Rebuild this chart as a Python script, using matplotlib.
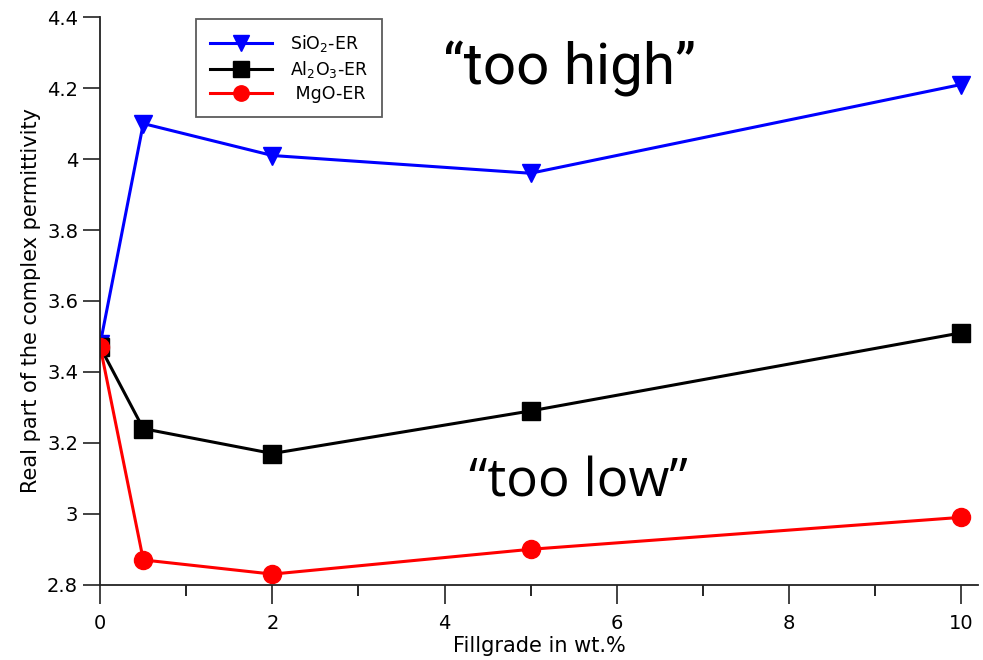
import matplotlib
matplotlib.use('Agg')
import matplotlib.pyplot as plt
from matplotlib.ticker import MultipleLocator, FormatStrFormatter

# Fill grade (wt.%) and real part of permittivity
fillgrade = [0, 0.5, 2, 5, 10]
sio2 = [3.48, 4.10, 4.01, 3.96, 4.21]
al2o3 = [3.47, 3.24, 3.17, 3.29, 3.51]
mgo = [3.47, 2.87, 2.83, 2.90, 2.99]

labels = ['SiO$_2$-ER', 'Al$_2$O$_3$-ER', ' MgO-ER']

fig = plt.figure(figsize=(9.83, 6.6), dpi=100)
ax = fig.add_axes([0.102, 0.114, 0.893, 0.86])

# Plotting the three filler series
ax.plot(fillgrade, sio2, color='blue', lw=2.2, marker='v', markersize=13, label=labels[0])
ax.plot(fillgrade, al2o3, color='black', lw=2.2, marker='s', markersize=13, label=labels[1])
ax.plot(fillgrade, mgo, color='red', lw=2.2, marker='o', markersize=13, label=labels[2])

ax.set_xlim(0, 10.2)
ax.set_ylim(2.8, 4.4)

# Axis styling: only left and bottom spines, ticks pointing outwards
for side in ['top', 'right']:
    ax.spines[side].set_visible(False)
for side in ['left', 'bottom']:
    ax.spines[side].set_linewidth(1.3)
    ax.spines[side].set_color('#222222')

ax.xaxis.set_major_locator(MultipleLocator(2))
ax.xaxis.set_minor_locator(MultipleLocator(1))
ax.yaxis.set_major_locator(MultipleLocator(0.2))
ax.yaxis.set_major_formatter(FormatStrFormatter('%g'))
ax.tick_params(axis='both', direction='out', labelsize=14, width=1.2, color='#222222')
ax.tick_params(axis='x', which='major', length=14, pad=7)
ax.tick_params(axis='x', which='minor', length=8, width=1.2)
ax.tick_params(axis='y', length=12, pad=4)

ax.set_xlabel('Fillgrade in wt.%', fontsize=15, labelpad=2)
ax.set_ylabel('Real part of the complex permittivity', fontsize=15, labelpad=4)

leg = ax.legend(loc='upper left', bbox_to_anchor=(0.107, 1.0), fontsize=12.5,
                handlelength=3.6, markerscale=0.85, frameon=True, fancybox=False,
                borderpad=0.8, labelspacing=0.3, handletextpad=1.0, borderaxespad=0.1)
leg.get_frame().set_edgecolor('#333333')
leg.get_frame().set_linewidth(1.3)

# Annotations
ax.text(0.39, 0.908, '\u201ctoo high\u201d', transform=ax.transAxes, fontsize=42,
        family='Roboto', ha='left', va='center')
ax.text(0.42, 0.18, '\u201ctoo low\u201d', transform=ax.transAxes, fontsize=38,
        family='Open Sans', ha='left', va='center')

plt.savefig('out.png', dpi=100)
